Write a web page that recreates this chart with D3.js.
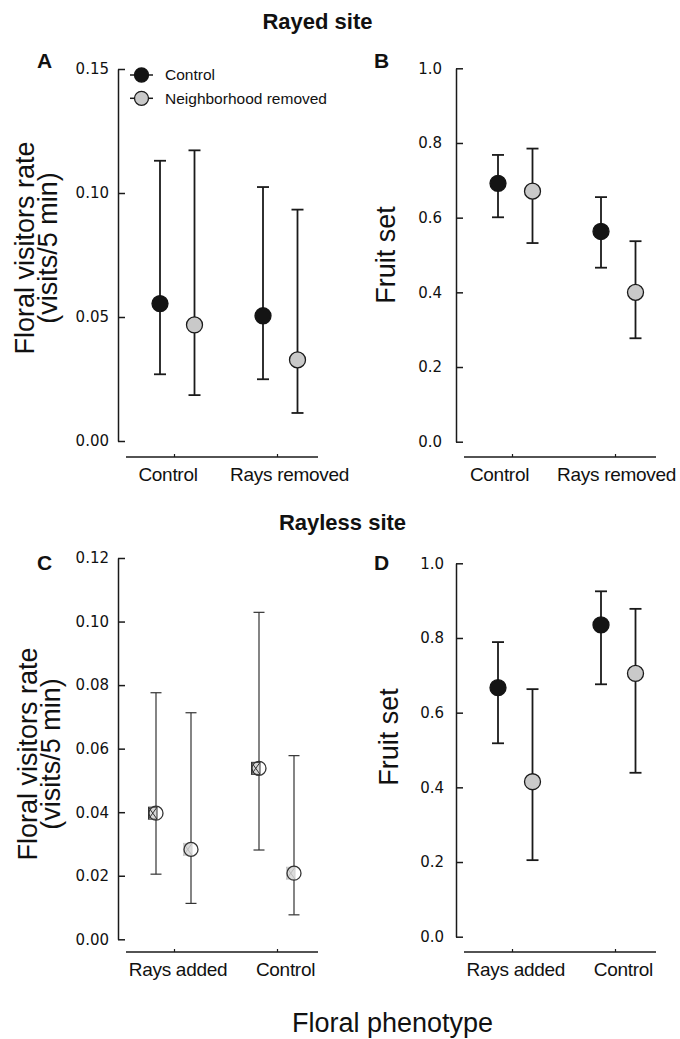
<!DOCTYPE html>
<html>
<head>
<meta charset="utf-8">
<script src="https://cdn.jsdelivr.net/npm/d3@7"></script>
<style>
  html, body { margin: 0; padding: 0; background: #fff; }
  svg { display: block; font-family: "Liberation Sans", Arial, sans-serif; }
</style>
</head>
<body>
<svg id="chart" width="680" height="1039"></svg>
<script>
// ---------- data ----------
const seriesNames = ["Control", "Neighborhood removed"];

const rayedCategories = ["Control", "Rays removed"];
const raylessCategories = ["Rays added", "Control"];

// Panel A: floral visitors rate, rayed site
const aControlMean = [0.0554, 0.0505];
const aControlLow  = [0.0269, 0.0249];
const aControlHigh = [0.1130, 0.1024];
const aNeighMean   = [0.0468, 0.0327];
const aNeighLow    = [0.0185, 0.0113];
const aNeighHigh   = [0.1172, 0.0933];
const aTicks = [0, 0.05, 0.10, 0.15];

// Panel B: fruit set, rayed site
const bControlMean = [0.692, 0.563];
const bControlLow  = [0.601, 0.466];
const bControlHigh = [0.768, 0.655];
const bNeighMean   = [0.671, 0.400];
const bNeighLow    = [0.532, 0.277];
const bNeighHigh   = [0.785, 0.537];
const bTicks = [0, 0.2, 0.4, 0.6, 0.8, 1.0];

// Panel C: floral visitors rate, rayless site
const cControlMean = [0.0397, 0.0538];
const cControlLow  = [0.0205, 0.0281];
const cControlHigh = [0.0776, 0.1029];
const cNeighMean   = [0.0283, 0.0208];
const cNeighLow    = [0.0113, 0.0077];
const cNeighHigh   = [0.0713, 0.0578];
const cTicks = [0, 0.02, 0.04, 0.06, 0.08, 0.10, 0.12];

// Panel D: fruit set, rayless site
const dControlMean = [0.667, 0.835];
const dControlLow  = [0.518, 0.676];
const dControlHigh = [0.789, 0.925];
const dNeighMean   = [0.415, 0.705];
const dNeighLow    = [0.205, 0.439];
const dNeighHigh   = [0.663, 0.878];
const dTicks = [0, 0.2, 0.4, 0.6, 0.8, 1.0];

// ---------- drawing ----------
const svg = d3.select("#chart");
const INK = "#1a1a1a";
const GRAY = "#c9c9c9";

function rows(cats, cm, cl, ch, nm, nl, nh) {
  const out = [];
  cats.forEach((c, i) => {
    out.push({cat: c, s: 0, m: cm[i], lo: cl[i], hi: ch[i]});
    out.push({cat: c, s: 1, m: nm[i], lo: nl[i], hi: nh[i]});
  });
  return out;
}

function panel(cfg) {
  const g = svg.append("g");
  const y = d3.scaleLinear().domain([0, cfg.yMax]).range([cfg.yBottom, cfg.yTop]);
  const x = d3.scalePoint().domain(cfg.cats).range([cfg.tick0, cfg.tick1]);

  // y axis
  const ya = g.append("g")
    .attr("transform", `translate(${cfg.axisX},0)`)
    .call(d3.axisLeft(y).tickValues(cfg.ticks).tickFormat(d3.format(cfg.fmt))
      .tickSizeInner(-7).tickSizeOuter(0).tickPadding(cfg.tickPad));
  ya.select(".domain").attr("stroke", INK).attr("stroke-width", 1.5);
  ya.selectAll(".tick line").attr("stroke", INK).attr("stroke-width", 1.5);
  ya.selectAll(".tick text")
    .attr("fill", "#111")
    .style("font-family", "'DejaVu Sans', sans-serif")
    .style("font-size", "15px");

  // x baseline
  g.append("line")
    .attr("x1", cfg.baseX0).attr("x2", cfg.baseX1)
    .attr("y1", cfg.baseY).attr("y2", cfg.baseY)
    .attr("stroke", INK).attr("stroke-width", 1.5);
  const xa = g.append("g")
    .attr("transform", `translate(0,${cfg.baseY})`)
    .call(d3.axisBottom(x).tickSizeInner(-3).tickSizeOuter(0).tickPadding(11));
  xa.select(".domain").remove();
  xa.selectAll(".tick line").attr("stroke", INK).attr("stroke-width", 1.2);
  xa.selectAll(".tick text")
    .attr("fill", "#111")
    .attr("dx", (d, i) => cfg.labelDx[i])
    .style("font-size", "19px")
    .style("letter-spacing", "-0.3px");

  const data = rows(cfg.cats, ...cfg.series);
  const px = d => x(d.cat) + cfg.dodge[d.s];

  const eb = g.append("g");
  const sw = cfg.thin ? 1.2 : 1.8;
  const capHalf = cfg.thin ? 5.5 : 6;
  const ebColor = cfg.thin ? "#333" : INK;
  eb.selectAll("line.v").data(data).join("line").attr("class", "v")
    .attr("x1", px).attr("x2", px)
    .attr("y1", d => y(d.lo)).attr("y2", d => y(d.hi))
    .attr("stroke", ebColor).attr("stroke-width", sw);
  eb.selectAll("line.t").data(data).join("line").attr("class", "t")
    .attr("x1", d => px(d) - capHalf).attr("x2", d => px(d) + capHalf)
    .attr("y1", d => y(d.hi)).attr("y2", d => y(d.hi))
    .attr("stroke", ebColor).attr("stroke-width", sw);
  eb.selectAll("line.b").data(data).join("line").attr("class", "b")
    .attr("x1", d => px(d) - capHalf).attr("x2", d => px(d) + capHalf)
    .attr("y1", d => y(d.lo)).attr("y2", d => y(d.lo))
    .attr("stroke", ebColor).attr("stroke-width", sw);

  if (!cfg.thin) {
    g.selectAll("circle.pt").data(data).join("circle").attr("class", "pt")
      .attr("cx", px).attr("cy", d => y(d.m)).attr("r", 8)
      .attr("fill", d => d.s === 0 ? "#141414" : GRAY)
      .attr("stroke", d => d.s === 0 ? "#141414" : INK)
      .attr("stroke-width", 1.3);
  } else {
    // odd rendering of markers in panel C: box glyph behind an open circle
    const mk = g.selectAll("g.mk").data(data).join("g").attr("class", "mk")
      .attr("transform", d => `translate(${px(d)},${y(d.m)})`);
    mk.append("rect")
      .attr("x", -7.5).attr("y", -6).attr("width", 8.5).attr("height", 12)
      .attr("fill", d => d.s === 0 ? "#d8d8d8" : "#dcdcdc")
      .attr("stroke", d => d.s === 0 ? "#333" : "#d0d0d0")
      .attr("stroke-width", 1);
    mk.append("path")
      .attr("d", "M-7.5,-6L1,6M1,-6L-7.5,6")
      .attr("stroke", d => d.s === 0 ? "#333" : "#bbb")
      .attr("stroke-width", 1).attr("fill", "none");
    mk.append("circle")
      .attr("r", 7).attr("fill", "none")
      .attr("stroke", "#333").attr("stroke-width", 1.3);
  }

  // panel letter
  svg.append("text").attr("x", cfg.letterX).attr("y", cfg.letterY)
    .attr("font-weight", "bold").attr("font-size", 21).attr("fill", "#111")
    .text(cfg.letter);

  // y title
  cfg.yTitle.forEach((t, i) => {
    svg.append("text")
      .attr("transform", `translate(${cfg.yTitleX[i]},${cfg.yTitleY}) rotate(-90)`)
      .attr("text-anchor", "middle").attr("font-size", 27).attr("fill", "#111")
      .text(t);
  });
}

panel({
  cats: rayedCategories, yMax: 0.15, ticks: aTicks, fmt: ".2f",
  series: [aControlMean, aControlLow, aControlHigh, aNeighMean, aNeighLow, aNeighHigh],
  axisX: 118, yTop: 69, yBottom: 441, tickPad: 9,
  baseY: 457, baseX0: 126, baseX1: 318, tick0: 174, tick1: 277,
  dodge: [-14, 20.5], labelDx: [-6.5, 12],
  letter: "A", letterX: 37, letterY: 68,
  yTitle: ["Floral visitors rate", "(visits/5 min)"], yTitleX: [33.5, 56.5], yTitleY: 248
});
panel({
  cats: rayedCategories, yMax: 1.0, ticks: bTicks, fmt: ".1f",
  series: [bControlMean, bControlLow, bControlHigh, bNeighMean, bNeighLow, bNeighHigh],
  axisX: 456, yTop: 68.3, yBottom: 441.7, tickPad: 14,
  baseY: 457, baseX0: 464, baseX1: 656, tick0: 512, tick1: 615,
  dodge: [-14, 20.5], labelDx: [-13, 1],
  letter: "B", letterX: 374, letterY: 68,
  yTitle: ["Fruit set"], yTitleX: [395], yTitleY: 255
});
panel({
  cats: raylessCategories, yMax: 0.12, ticks: cTicks, fmt: ".2f", thin: true,
  series: [cControlMean, cControlLow, cControlHigh, cNeighMean, cNeighLow, cNeighHigh],
  axisX: 118, yTop: 558, yBottom: 939.3, tickPad: 9,
  baseY: 952, baseX0: 126, baseX1: 318, tick0: 174, tick1: 277,
  dodge: [-18, 17], labelDx: [3.5, 8],
  letter: "C", letterX: 37, letterY: 570,
  yTitle: ["Floral visitors rate", "(visits/5 min)"], yTitleX: [36.5, 59.5], yTitleY: 754
});
panel({
  cats: raylessCategories, yMax: 1.0, ticks: dTicks, fmt: ".1f",
  series: [dControlMean, dControlLow, dControlHigh, dNeighMean, dNeighLow, dNeighHigh],
  axisX: 456, yTop: 563.3, yBottom: 936.7, tickPad: 12,
  baseY: 952, baseX0: 464, baseX1: 656, tick0: 512, tick1: 615,
  dodge: [-14, 20.5], labelDx: [3.3, 7.8],
  letter: "D", letterX: 374, letterY: 570,
  yTitle: ["Fruit set"], yTitleX: [398], yTitleY: 737
});

// legend (panel A)
const leg = svg.append("g");
seriesNames.forEach((name, i) => {
  const ly = 75 + i * 23.3;
  leg.append("line").attr("x1", 130).attr("x2", 153).attr("y1", ly).attr("y2", ly)
    .attr("stroke", INK).attr("stroke-width", 1.5);
  leg.append("circle").attr("cx", 141.5).attr("cy", ly).attr("r", 7)
    .attr("fill", i === 0 ? "#141414" : GRAY)
    .attr("stroke", i === 0 ? "#141414" : INK).attr("stroke-width", 1.3);
  leg.append("text").attr("x", 165).attr("y", ly).attr("dy", "0.35em")
    .attr("font-size", 15.5).attr("fill", "#111").text(name);
});

// titles
svg.append("text").attr("x", 317.5).attr("y", 28.5).attr("text-anchor", "middle")
  .attr("font-weight", "bold").attr("font-size", 22).attr("fill", "#111").text("Rayed site");
svg.append("text").attr("x", 342.5).attr("y", 530).attr("text-anchor", "middle")
  .attr("font-weight", "bold").attr("font-size", 22).attr("fill", "#111").text("Rayless site");
svg.append("text").attr("x", 292).attr("y", 1032)
  .attr("font-size", 27).attr("fill", "#111").text("Floral phenotype");
</script>
</body>
</html>
